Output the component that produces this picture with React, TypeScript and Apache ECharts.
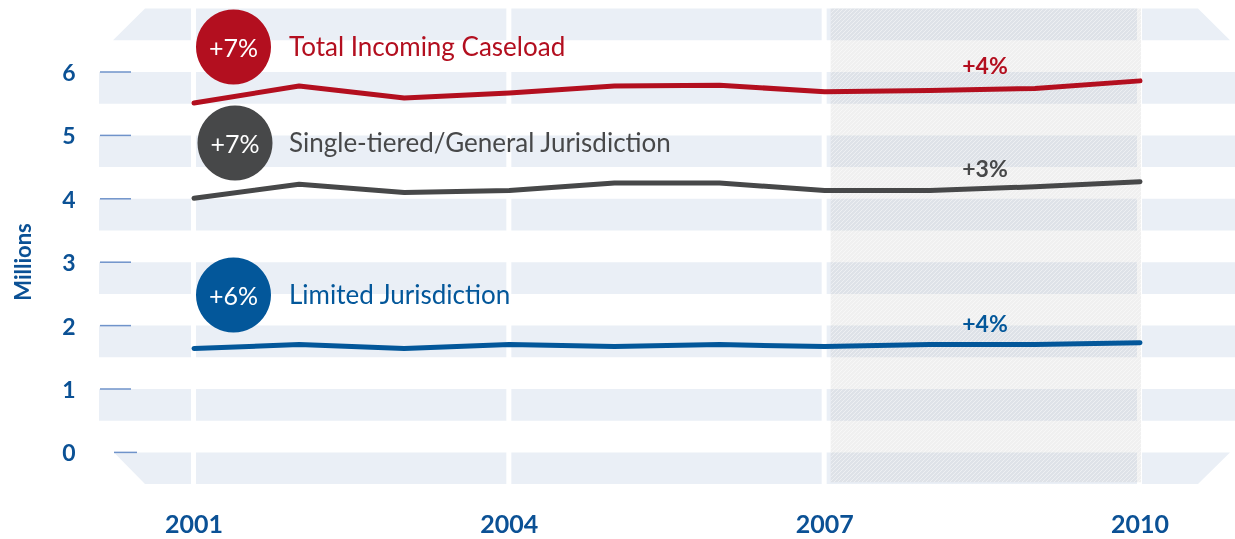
import React, { useEffect, useRef } from "react";
import * as echarts from "echarts";

const years = ["2001", "2002", "2003", "2004", "2005", "2006", "2007", "2008", "2009", "2010"];
const totalIncoming = [5.51, 5.78, 5.59, 5.67, 5.78, 5.79, 5.69, 5.71, 5.74, 5.86];
const singleTiered = [4.01, 4.23, 4.1, 4.13, 4.25, 4.25, 4.13, 4.13, 4.19, 4.27];
const limitedJur = [1.64, 1.7, 1.64, 1.7, 1.67, 1.7, 1.67, 1.7, 1.7, 1.73];
const yTickValues = [0, 1, 2, 3, 4, 5, 6];
const bandTops = [0, 1, 2, 3, 4, 5, 6, 7];
const gapYears = ["2001", "2004", "2007", "2010"];
const shadedFrom = "2007";
const shadedTo = "2010";
const seriesNames = ["Total Incoming Caseload", "Single-tiered/General Jurisdiction", "Limited Jurisdiction"];
const overallChange = ["+7%", "+7%", "+6%"];
const recentChange = ["+4%", "+3%", "+4%"];
const yAxisTitle = "Millions";

const RED = "#B30F1F";
const GRAY = "#474849";
const BLUE = "#03579A";
const LABEL_BLUE = "#0B5195";
const BAND = "#EAEFF6";
const FONT = "Lato, 'Open Sans', sans-serif";

function makeHatch(): HTMLCanvasElement {
  const c = document.createElement("canvas");
  c.width = 4;
  c.height = 4;
  const ctx = c.getContext("2d")!;
  ctx.strokeStyle = "rgba(255,255,255,0.45)";
  ctx.lineWidth = 1;
  ctx.beginPath();
  ctx.moveTo(0, 4);
  ctx.lineTo(4, 0);
  ctx.moveTo(-1, 1);
  ctx.lineTo(1, -1);
  ctx.moveTo(3, 5);
  ctx.lineTo(5, 3);
  ctx.stroke();
  return c;
}

export default function App() {
  const ref = useRef<HTMLDivElement>(null);
  useEffect(() => {
    if (!ref.current) return;
    const chart = echarts.init(ref.current, undefined, { renderer: "svg" });
    const hatch = makeHatch();

    const bandSeries: any = {
      type: "custom",
      z: 1,
      silent: true,
      data: bandTops.map((k) => [0, k]),
      renderItem: (params: any, api: any) => {
        const k = api.value(1);
        const yT = api.coord([0, k])[1];
        const yB = api.coord([0, k - 0.5])[1];
        let pts: number[][];
        if (k === bandTops[bandTops.length - 1]) {
          pts = [[145, yT], [1198, yT], [1230, yB], [113, yB]];
        } else if (k === bandTops[0]) {
          pts = [[114, yT], [1230, yT], [1198, yB], [145, yB]];
        } else {
          pts = [[99, yT], [1235, yT], [1235, yB], [99, yB]];
        }
        return { type: "polygon", shape: { points: pts }, style: { fill: BAND } };
      },
    };

    const gapSeries: any = {
      type: "custom",
      z: 2,
      silent: true,
      data: gapYears.map((y) => [years.indexOf(y)]),
      renderItem: (params: any, api: any) => {
        const x = api.coord([api.value(0), 0])[0];
        const yT = api.coord([0, 7.05])[1];
        const yB = api.coord([0, -0.6])[1];
        return { type: "rect", shape: { x: x - 3, y: yT, width: 5, height: yB - yT }, style: { fill: "#ffffff" } };
      },
    };

    const shadeSeries: any = {
      type: "custom",
      z: 3,
      silent: true,
      data: [[years.indexOf(shadedFrom), years.indexOf(shadedTo)]],
      renderItem: (params: any, api: any) => {
        const x0 = api.coord([api.value(0), 0])[0] + 6;
        const x1 = api.coord([api.value(1), 0])[0] + 1;
        const yT = api.coord([0, 7])[1];
        const yB = api.coord([0, -0.47])[1];
        const shape = { x: x0, y: yT, width: x1 - x0, height: yB - yT };
        return {
          type: "group",
          children: [
            { type: "rect", shape, style: { fill: "rgba(150,150,150,0.14)" } },
            { type: "rect", shape, style: { fill: { image: hatch, repeat: "repeat" } } },
          ],
        };
      },
    };

    const tickSeries: any = {
      type: "custom",
      z: 2,
      silent: true,
      data: yTickValues.map((v) => [0, v]),
      renderItem: (params: any, api: any) => {
        const v = api.value(1);
        const y = api.coord([0, v])[1];
        const x0 = v === 0 ? 114 : 100;
        const x1 = v === 0 ? 137 : 131;
        return { type: "line", shape: { x1: x0, y1: y, x2: x1, y2: y }, style: { stroke: "#6F93CA", lineWidth: 1.5 } };
      },
    };

    const lineStyle = (c: string) => ({ color: c, width: 5, cap: "round", join: "round" });
    const lines: any[] = [
      { name: seriesNames[0], data: totalIncoming, color: RED },
      { name: seriesNames[1], data: singleTiered, color: GRAY },
      { name: seriesNames[2], data: limitedJur, color: BLUE },
    ].map((s) => ({
      type: "line",
      name: s.name,
      data: s.data,
      z: 10,
      symbol: "none",
      itemStyle: { color: s.color },
      lineStyle: lineStyle(s.color),
    }));

    const legendColors = [RED, GRAY, BLUE];
    const legendCenters = [
      [233.5, 47],
      [235, 143],
      [233.5, 295],
    ];
    const recentPos = [
      [985, 65],
      [985, 168],
      [985, 323],
    ];
    const graphics: any[] = [
      {
        type: "text",
        x: 22,
        y: 262,
        rotation: Math.PI / 2,
        style: { text: yAxisTitle, fill: LABEL_BLUE, font: `bold 22px ${FONT}`, align: "center", verticalAlign: "middle" },
      },
    ];
    seriesNames.forEach((name, i) => {
      const [cx, cy] = legendCenters[i];
      graphics.push({ type: "circle", z: 20, shape: { cx, cy, r: 37.5 }, style: { fill: legendColors[i] } });
      graphics.push({
        type: "text",
        z: 21,
        x: cx,
        y: cy,
        style: { text: overallChange[i], fill: "#ffffff", font: `25px ${FONT}`, align: "center", verticalAlign: "middle" },
      });
      graphics.push({
        type: "text",
        z: 21,
        x: 289,
        y: cy - 1,
        style: { text: name, fill: legendColors[i], font: `26px ${FONT}`, align: "left", verticalAlign: "middle" },
      });
      graphics.push({
        type: "text",
        z: 21,
        x: recentPos[i][0],
        y: recentPos[i][1],
        style: { text: recentChange[i], fill: legendColors[i], font: `bold 23px ${FONT}`, align: "center", verticalAlign: "middle" },
      });
    });

    chart.setOption({
      animation: false,
      grid: { left: 194, right: 95, top: 8.6, bottom: 54.9, containLabel: false, outerBoundsMode: "none" },
      xAxis: {
        type: "category",
        data: years,
        boundaryGap: false,
        axisLine: { show: false },
        axisTick: { show: false },
        splitLine: { show: false },
        axisLabel: { interval: 2, margin: 26, color: LABEL_BLUE, fontFamily: FONT, fontWeight: "bold", fontSize: 25 },
      },
      yAxis: {
        type: "value",
        min: -0.5,
        max: 7,
        interval: 0.5,
        axisLine: { show: false },
        axisTick: { show: false },
        splitLine: { show: false },
        axisLabel: {
          margin: 125,
          align: "center",
          padding: [0, 0, 10, 0],
          color: LABEL_BLUE,
          fontFamily: FONT,
          fontWeight: "bold",
          fontSize: 23,
          formatter: (v: number) => (Number.isInteger(v) && yTickValues.indexOf(v) >= 0 ? String(v) : ""),
        },
      },
      series: [bandSeries, gapSeries, shadeSeries, tickSeries, ...lines],
      graphic: graphics,
    });
    return () => chart.dispose();
  }, []);
  return <div ref={ref} style={{ position: "fixed", left: 0, top: 0, width: 1235, height: 539 }} />;
}
